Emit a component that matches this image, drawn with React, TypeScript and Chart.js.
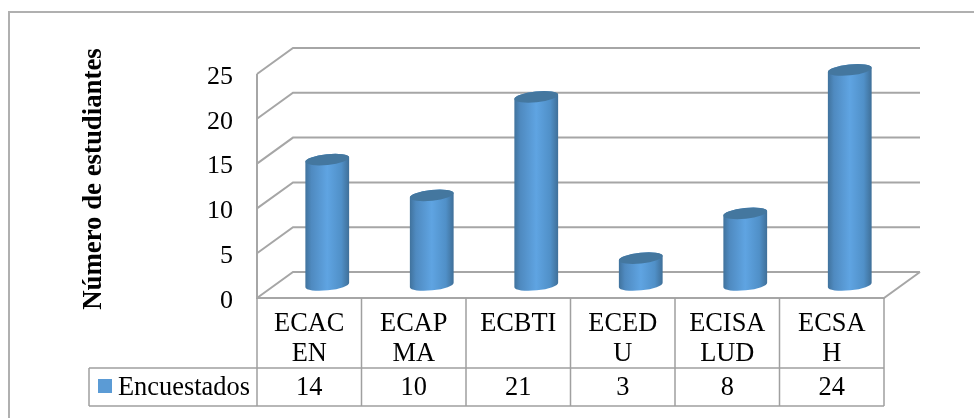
import React, { useEffect, useRef } from "react";
import { Chart, registerables } from "chart.js";

Chart.register(...registerables);

const categories = [["ECAC", "EN"], ["ECAP", "MA"], ["ECBTI"], ["ECED", "U"], ["ECISA", "LUD"], ["ECSA", "H"]];
const seriesName = "Encuestados";
const encuestados = [14, 10, 21, 3, 8, 24];
const axisTitle = "Número de estudiantes";

const FONT = '"Liberation Serif", "Times New Roman", serif';
const LINE = "#a6a6a6";
const DX = 36;
const DY = -26;

function nudge(scale: any, method: string, dy: number) {
  const original = scale[method];
  scale[method] = function (...args: any[]) {
    const ctx = scale.ctx;
    ctx.save();
    ctx.translate(0, dy);
    original.apply(scale, args);
    ctx.restore();
  };
}

const scene = {
  id: "scene",
  beforeDraw(chart: any) {
    const y = chart.scales.y;
    if (!y.__nudged) {
      y.__nudged = true;
      nudge(y, "drawLabels", 3);
      nudge(y, "drawTitle", -7);
    }
  },
  beforeDatasetsDraw(chart: any) {
    const { ctx, scales } = chart;
    const y = scales.y;
    const x = scales.x;
    const L = x.left;
    const R = x.right;
    const B = y.bottom;
    ctx.save();
    // outer frame
    ctx.strokeStyle = "#b0b0b0";
    ctx.lineWidth = 2;
    ctx.beginPath();
    ctx.moveTo(9, 418);
    ctx.lineTo(9, 12);
    ctx.lineTo(974, 12);
    ctx.stroke();
    // gridlines: back wall, side wall
    ctx.strokeStyle = LINE;
    ctx.lineWidth = 2;
    y.ticks.forEach((t: any) => {
      const py = y.getPixelForValue(t.value);
      ctx.beginPath();
      ctx.moveTo(L, py);
      ctx.lineTo(L + DX, py + DY);
      ctx.lineTo(R + DX, py + DY);
      ctx.stroke();
    });
    // floor edge, front axis
    ctx.beginPath();
    ctx.moveTo(R + DX, B + DY);
    ctx.lineTo(R, B);
    ctx.lineTo(L, B);
    ctx.lineTo(L, y.top);
    ctx.stroke();
    // data table
    const rowTop = 368;
    const rowBottom = 406;
    ctx.lineWidth = 1.5;
    ctx.strokeStyle = "#a0a0a0";
    ctx.beginPath();
    ctx.moveTo(89, rowTop);
    ctx.lineTo(R, rowTop);
    ctx.moveTo(89, rowBottom);
    ctx.lineTo(R, rowBottom);
    ctx.moveTo(89, rowTop);
    ctx.lineTo(89, rowBottom);
    const step = (R - L) / encuestados.length;
    for (let i = 0; i <= encuestados.length; i++) {
      ctx.moveTo(L + step * i, B);
      ctx.lineTo(L + step * i, rowBottom);
    }
    ctx.stroke();
    ctx.fillStyle = "#5b9bd5";
    ctx.fillRect(98, 379, 14, 14);
    ctx.fillStyle = "#000";
    ctx.font = `26.4px ${FONT}`;
    ctx.textBaseline = "middle";
    ctx.textAlign = "left";
    ctx.fillText(chart.data.datasets[0].label, 118, 388);
    ctx.textAlign = "center";
    encuestados.forEach((v, i) => {
      ctx.fillText(String(v), x.getPixelForValue(i), 388);
    });
    ctx.restore();
  },
  afterDatasetsDraw(chart: any) {
    const { ctx, scales } = chart;
    const y = scales.y;
    const meta = chart.getDatasetMeta(0);
    const rx = 22;
    const ry = 5.4;
    const rot = -0.105;
    const offX = 18;
    const offY = -13;
    meta.data.forEach((bar: any) => {
      const cx = bar.x + offX;
      const top = bar.y + offY;
      const base = y.getPixelForValue(0) + offY;
      const g = ctx.createLinearGradient(cx - rx, 0, cx + rx, 0);
      g.addColorStop(0, "#40729c");
      g.addColorStop(0.14, "#4f8ac0");
      g.addColorStop(0.5, "#5fa4e2");
      g.addColorStop(0.82, "#5090c8");
      g.addColorStop(1, "#3f6f98");
      const dx = rx * Math.cos(rot);
      const dy = rx * Math.sin(rot);
      ctx.save();
      ctx.fillStyle = g;
      ctx.beginPath();
      ctx.moveTo(cx - dx, top - dy);
      ctx.lineTo(cx - dx, base - dy);
      ctx.ellipse(cx, base, rx, ry, rot, Math.PI, 0, true);
      ctx.lineTo(cx + dx, top + dy);
      ctx.ellipse(cx, top, rx, ry, rot, 0, Math.PI, true);
      ctx.closePath();
      ctx.fill();
      ctx.fillStyle = "#44779f";
      ctx.beginPath();
      ctx.ellipse(cx, top, rx, ry, rot, 0, Math.PI * 2);
      ctx.fill();
      ctx.restore();
    });
  },
};

export default function App() {
  const ref = useRef<HTMLCanvasElement>(null);
  useEffect(() => {
    document.body.style.margin = "0";
    document.body.style.background = "#fff";
    const chart = new Chart(ref.current as HTMLCanvasElement, {
      type: "bar",
      data: {
        labels: categories as any,
        datasets: [{ label: seriesName, data: encuestados, backgroundColor: "transparent", borderWidth: 0 }],
      },
      options: {
        animation: false,
        responsive: false,
        devicePixelRatio: 1,
        layout: { padding: { left: 78, right: 90, top: 74, bottom: 0 } },
        plugins: { legend: { display: false }, tooltip: { enabled: false } },
        scales: {
          x: {
            grid: { display: false },
            border: { display: false },
            afterFit(s: any) { s.height = 120; },
            ticks: {
              maxRotation: 0,
              autoSkip: false,
              color: "#000",
              padding: 3,
              font: { family: FONT, size: 26.4, lineHeight: 1.14 },
            },
          },
          y: {
            min: 0,
            max: 25,
            grid: { display: false },
            border: { display: false },
            afterFit(s: any) { s.width = 257 - 78; },
            ticks: { stepSize: 5, color: "#000", padding: 16, font: { family: FONT, size: 26 } },
            title: {
              display: true,
              text: axisTitle,
              color: "#000",
              padding: 0,
              font: { family: FONT, size: 26.8, weight: "bold" },
            },
          },
        },
      },
      plugins: [scene],
    } as any);
    return () => chart.destroy();
  }, []);
  return <canvas ref={ref} width={974} height={418} style={{ display: "block" }} />;
}
